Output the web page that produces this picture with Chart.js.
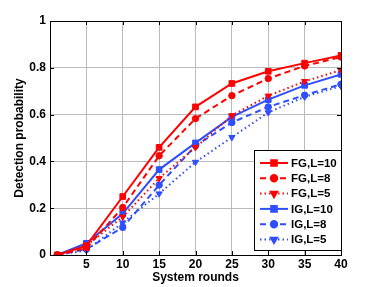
<!DOCTYPE html>
<html>
<head>
<meta charset="utf-8">
<script src="https://cdn.jsdelivr.net/npm/chart.js@4"></script>
<style>
  html, body { margin: 0; padding: 0; background: #fff; }
  canvas { display: block; }
</style>
</head>
<body>
<canvas id="chart" width="382" height="287"></canvas>
<script>
// data
const rounds = [1, 5, 10, 15, 20, 25, 30, 35, 40];
const xTicks = [5, 10, 15, 20, 25, 30, 35, 40];
const yTicks = [0, 0.2, 0.4, 0.6, 0.8, 1];

const fgL10 = [0, 0.04, 0.25, 0.46, 0.633, 0.733, 0.785, 0.82, 0.853];
const fgL8  = [0, 0.03, 0.203, 0.424, 0.583, 0.681, 0.754, 0.808, 0.846];
const fgL5  = [0, 0.04, 0.163, 0.328, 0.46, 0.596, 0.68, 0.742, 0.79];
const igL10 = [0, 0.05, 0.177, 0.365, 0.479, 0.59, 0.664, 0.725, 0.772];
const igL8  = [0, 0.025, 0.118, 0.299, 0.467, 0.566, 0.633, 0.683, 0.73];
const igL5  = [0, 0.02, 0.138, 0.262, 0.397, 0.503, 0.609, 0.676, 0.722];

const RED = '#ff0000';
const BLUE = '#2f4fff';
const FONT = "'Liberation Sans', Arial, sans-serif";

function markerRadius(style){
    if(style === 'rect') return 4;
    if(style === 'triangle') return 3.6;
    return 3.2;
}

function makeDataSet(label, values, colour, dash, style, rotation){
    return {
        label: label,
        data: values.map((v, i) => ({x: rounds[i], y: v})),
        borderColor: colour,
        backgroundColor: colour,
        borderWidth: 2,
        borderDash: dash,
        pointStyle: style,
        pointRotation: rotation,
        pointRadius: markerRadius(style),
        pointBorderWidth: 1,
        fill: false,
        tension: 0
    }
}

const dataList = [
    makeDataSet('FG,L=10', fgL10, RED, [], 'rect', 0),
    makeDataSet('FG,L=8', fgL8, RED, [6, 4], 'circle', 0),
    makeDataSet('FG,L=5', fgL5, RED, [1.5, 3], 'triangle', 180),
    makeDataSet('IG,L=10', igL10, BLUE, [], 'rect', 0),
    makeDataSet('IG,L=8', igL8, BLUE, [6, 4], 'circle', 0),
    makeDataSet('IG,L=5', igL5, BLUE, [1.5, 3], 'triangle', 180)
];

// box around the plot area with inward tick marks, like MATLAB
const boxPlugin = {
    id: 'box',
    afterDraw(chart){
        const ctx = chart.ctx;
        const a = chart.chartArea;
        const xs = chart.scales.x, ys = chart.scales.y;
        ctx.save();
        ctx.strokeStyle = '#000';
        ctx.lineWidth = 1;
        ctx.setLineDash([]);
        ctx.beginPath();
        for(const t of xTicks){
            const px = Math.round(xs.getPixelForValue(t)) + 0.5;
            ctx.moveTo(px, a.bottom); ctx.lineTo(px, a.bottom - 4);
            ctx.moveTo(px, a.top); ctx.lineTo(px, a.top + 4);
        }
        for(const t of yTicks){
            const py = Math.round(ys.getPixelForValue(t)) + 0.5;
            ctx.moveTo(a.left, py); ctx.lineTo(a.left + 4, py);
            ctx.moveTo(a.right, py); ctx.lineTo(a.right - 4, py);
        }
        ctx.stroke();
        ctx.strokeRect(Math.round(a.left) + 0.5, Math.round(a.top) + 0.5,
            Math.round(a.right - a.left), Math.round(a.bottom - a.top));

        // legend inside the bottom right corner
        const lx = 254.5, ly = 150.5, lw = 87, lh = 100;
        ctx.fillStyle = '#fff';
        ctx.fillRect(lx, ly, lw, lh);
        ctx.strokeRect(lx, ly, lw, lh);
        ctx.font = "bold 11.5px " + FONT;
        ctx.textBaseline = 'middle';
        chart.data.datasets.forEach((ds, i) => {
            const y = 163 + i * 15.3;
            ctx.strokeStyle = ds.borderColor;
            ctx.lineWidth = 2;
            ctx.setLineDash(ds.borderDash);
            ctx.beginPath();
            ctx.moveTo(260, y); ctx.lineTo(288, y);
            ctx.stroke();
            ctx.setLineDash([]);
            Chart.helpers.drawPoint(ctx, {
                pointStyle: ds.pointStyle, rotation: ds.pointRotation,
                radius: ds.pointRadius, borderWidth: 1
            }, 274, y);
            ctx.fillStyle = ds.borderColor;
            ctx.fill();
            ctx.fillStyle = '#000';
            ctx.fillText(ds.label, 291, y + 0.5);
        });
        ctx.restore();
    }
};

new Chart(document.getElementById('chart'), {
    type: 'line',
    data: { datasets: dataList },
    plugins: [boxPlugin],
    options: {
        responsive: false,
        maintainAspectRatio: false,
        animation: { duration: 0 },
        layout: { padding: { top: 21, right: 41, left: 12, bottom: 2 } },
        plugins: { legend: { display: false }, tooltip: { enabled: false } },
        scales: {
            x: {
                type: 'linear',
                min: 0, max: 40,
                afterBuildTicks: axis => { axis.ticks = xTicks.map(v => ({value: v})); },
                afterFit: axis => { axis.height = 30; },
                grid: { color: '#bbbbbb', borderDash: [1, 2], drawTicks: false, lineWidth: 1 },
                border: { display: false },
                ticks: { color: '#000', padding: 2, maxRotation: 0,
                    font: { family: FONT, size: 12, weight: 'bold' } },
                title: { display: true, text: 'System rounds', color: '#000', padding: { top: 0, bottom: 0 },
                    font: { family: FONT, size: 12, weight: 'bold' } }
            },
            y: {
                min: 0, max: 1,
                afterBuildTicks: axis => { axis.ticks = yTicks.map(v => ({value: v})); },
                afterFit: axis => { axis.width = 38; },
                grid: { color: '#bbbbbb', borderDash: [1, 2], drawTicks: false, lineWidth: 1 },
                border: { display: false },
                ticks: { color: '#000', padding: 4,
                    callback: v => String(v),
                    font: { family: FONT, size: 12, weight: 'bold' } },
                title: { display: true, text: 'Detection probability', color: '#000', padding: { top: 0, bottom: 2 },
                    font: { family: FONT, size: 12, weight: 'bold' } }
            }
        }
    }
});
</script>
</body>
</html>
